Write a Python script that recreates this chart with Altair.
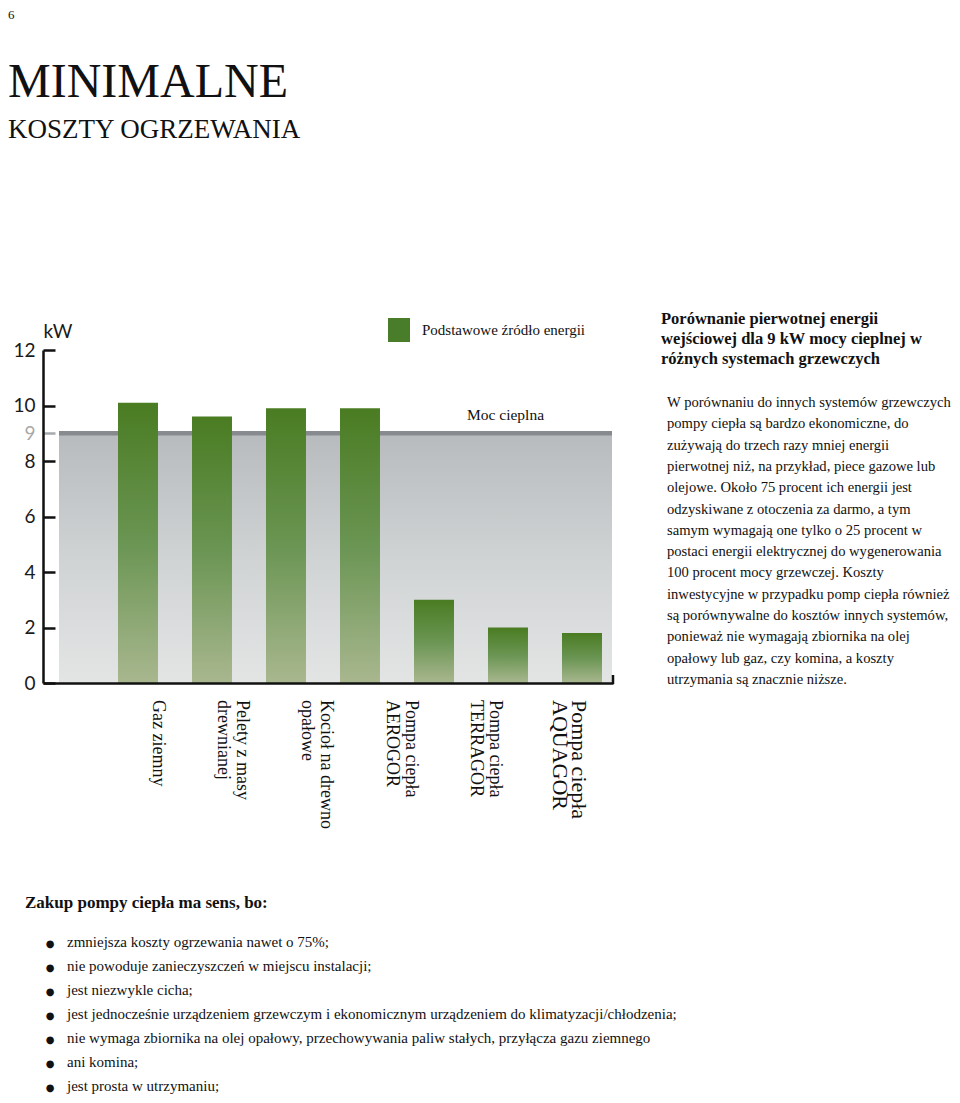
import altair as alt
import pandas as pd

# ---------------- data ----------------
page_number = ["6"]
title_main = ["MINIMALNE"]
title_sub = ["KOSZTY OGRZEWANIA"]

bar_index = [1, 2, 3, 4, 5, 6, 7]
bar_kw = [10.1, 9.6, 9.9, 9.9, 3.0, 2.0, 1.8]

category_labels = [
    "Gaz ziemny",
    "Pelety z masy\ndrewnianej",
    "Kocioł na drewno\nopałowe",
    "Pompa ciepła\nAEROGOR",
    "Pompa ciepła\nTERRAGOR",
    "Pompa ciepła\nAQUAGOR",
]

heat_output_kw = [9]
y_ticks = [0, 2, 4, 6, 8, 9, 10, 12]
y_unit = "kW"
legend_label = ["Podstawowe źródło energii"]
reference_label = ["Moc cieplna"]

side_title_lines = [
    "Porównanie pierwotnej energii",
    "wejściowej dla 9 kW mocy cieplnej w",
    "różnych systemach grzewczych",
]
side_text_lines = [
    "W porównaniu do innych systemów grzewczych",
    "pompy ciepła są bardzo ekonomiczne, do",
    "zużywają do trzech razy mniej energii",
    "pierwotnej niż, na przykład, piece gazowe lub",
    "olejowe. Około 75 procent ich energii jest",
    "odzyskiwane z otoczenia za darmo, a tym",
    "samym wymagają one tylko o 25 procent w",
    "postaci energii elektrycznej do wygenerowania",
    "100 procent mocy grzewczej. Koszty",
    "inwestycyjne w przypadku pomp ciepła również",
    "są porównywalne do kosztów innych systemów,",
    "ponieważ nie wymagają zbiornika na olej",
    "opałowy lub gaz, czy komina, a koszty",
    "utrzymania są znacznie niższe.",
]
list_title = ["Zakup pompy ciepła ma sens, bo:"]
list_items = [
    "zmniejsza koszty ogrzewania nawet o 75%;",
    "nie powoduje zanieczyszczeń w miejscu instalacji;",
    "jest niezwykle cicha;",
    "jest jednocześnie urządzeniem grzewczym i ekonomicznym urządzeniem do klimatyzacji/chłodzenia;",
    "nie wymaga zbiornika na olej opałowy, przechowywania paliw stałych, przyłącza gazu ziemnego",
    "ani komina;",
    "jest prosta w utrzymaniu;",
]

# ---------------- styles ----------------
SERIF = "Liberation Serif"
SANS = "Lato"
INK = "#111111"
W, H = 944, 1087

green_grad = alt.Gradient(
    gradient="linear",
    stops=[
        alt.GradientStop(color="#4a7c22", offset=0),
        alt.GradientStop(color="#6a9553", offset=0.5),
        alt.GradientStop(color="#a9b78f", offset=1),
    ],
    x1=0, x2=0, y1=0, y2=1,
)
gray_grad = alt.Gradient(
    gradient="linear",
    stops=[
        alt.GradientStop(color="#b8bbbd", offset=0),
        alt.GradientStop(color="#d0d3d4", offset=0.5),
        alt.GradientStop(color="#e3e5e5", offset=1),
    ],
    x1=0, x2=0, y1=0, y2=1,
)

y_scale = alt.Scale(domain=[0, 12], range=[675, 342], nice=False, zero=True)


def text_layer(lines, x, y, size, weight="normal", font=SERIF, line_height=None,
               align="left", baseline="alphabetic", color=INK):
    df = pd.DataFrame({"t": ["\n".join(lines)]})
    return alt.Chart(df).mark_text(
        align=align, baseline=baseline, font=font, fontSize=size,
        fontWeight=weight, lineBreak="\n",
        lineHeight=line_height if line_height else size * 1.2, color=color,
    ).encode(text="t:N", x=alt.value(x), y=alt.value(y))


# background band (heat output zone 0..9 kW)
band_df = pd.DataFrame({"lo": [0], "hi": heat_output_kw})
band = alt.Chart(band_df).mark_rect(color=gray_grad).encode(
    x=alt.value(51), x2=alt.value(604),
    y=alt.Y("lo:Q", scale=y_scale), y2="hi:Q",
)
band_rule = alt.Chart(band_df).mark_rule(color="#878b8f", strokeWidth=4.5).encode(
    x=alt.value(51), x2=alt.value(604),
    y=alt.Y("hi:Q", scale=y_scale),
)

bars_df = pd.DataFrame({"system": bar_index, "kw": bar_kw})
bars = alt.Chart(bars_df).mark_bar(color=green_grad).encode(
    x=alt.X(
        "system:O",
        scale=alt.Scale(type="band", range=[35, 605], paddingInner=0.4595,
                        paddingOuter=0.5811, align=0.872),
        axis=alt.Axis(orient="bottom", offset=-412, labels=False, ticks=False,
                      title=None, domainColor=INK, domainWidth=2.5, grid=False,
                      zindex=1),
    ),
    y=alt.Y(
        "kw:Q",
        scale=y_scale,
        axis=alt.Axis(
            orient="right", offset=-909, values=y_ticks, format="d", grid=False,
            domainColor=INK, domainWidth=2.5,
            tickSize=12, tickWidth=2.5,
            tickColor={"condition": {"test": "datum.value == 9", "value": "#a6a9ac"}, "value": INK},
            labelColor={"condition": {"test": "datum.value == 9", "value": "#a9a9a9"}, "value": "#1a1a1a"},
            labelAlign="right", labelPadding=-20, labelFont=SANS, labelFontSize=19,
            labelOverlap=False, labelBaseline="middle",
            title=y_unit, titleAngle=0, titleX=0, titleY=329, titleAlign="left",
            titleBaseline="alphabetic", titleFont=SANS, titleFontSize=19,
            titleFontWeight="normal", titleColor="#1a1a1a", zindex=1,
        ),
    ),
)

end_tick = alt.Chart(band_df).mark_rule(color=INK, strokeWidth=2.5).encode(
    x=alt.value(605), y=alt.value(667), y2=alt.value(676),
)

labels_df = pd.DataFrame({"lab": category_labels, "idx": list(range(len(category_labels)))})
cat_labels = alt.Chart(labels_df).mark_text(
    angle=90, align="left", baseline="middle", font=SERIF, lineBreak="\n",
    lineHeight=19, color=INK,
).encode(
    x=alt.X("lab:N", sort=None, scale=alt.Scale(type="point", range=[150, 571], padding=0),
            axis=None),
    y=alt.value(692),
    text="lab:N",
    size={"condition": {"test": "datum.idx == 5", "value": 22}, "value": 18},
)

legend_box = alt.Chart(band_df).mark_rect(color="#4a7d2a").encode(
    x=alt.value(380), x2=alt.value(402), y=alt.value(310), y2=alt.value(334),
)

layers = [
    band, band_rule, bars, end_tick, cat_labels, legend_box,
    text_layer(legend_label, 414, 327, 15),
    text_layer(reference_label, 459, 412, 15.5),
    text_layer(page_number, 0, 11, 13),
    text_layer(title_main, 0, 89, 48),
    text_layer(title_sub, 0, 130, 27),
    text_layer(side_title_lines, 653, 316, 16.5, weight="bold", line_height=20),
    text_layer(side_text_lines, 659, 399, 14.6, line_height=21.3),
    text_layer(list_title, 17, 900, 17, weight="bold"),
    text_layer(["●"] * len(list_items), 42, 939, 10, font="DejaVu Sans",
               align="center", line_height=24),
    text_layer(list_items, 59, 939, 15, line_height=24),
]

chart = alt.layer(*layers).resolve_scale(x="independent").properties(
    width=W, height=H, padding=0, autosize=alt.AutoSizeParams(type="none"),
    background="white",
).configure_view(stroke=None)

chart.save("out.html", embed_options={"renderer": "svg", "actions": False})
